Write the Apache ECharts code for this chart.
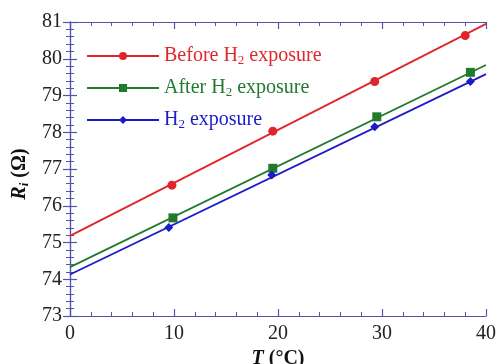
<!DOCTYPE html>
<html>
<head>
<meta charset="utf-8">
<script src="https://cdn.jsdelivr.net/npm/echarts@6/dist/echarts.min.js"></script>
<style>
  html, body { margin: 0; padding: 0; background: #fff; }
  #chart { width: 498px; height: 364px; }
</style>
</head>
<body>
<div id="chart"></div>
<script>
// measured points
const beforeT = [9.8, 19.5, 29.3, 38.0];
const beforeR = [76.56, 78.03, 79.38, 80.63];
const afterT = [9.9, 19.5, 29.5, 38.5];
const afterR = [75.67, 77.02, 78.42, 79.63];
const exposT = [9.5, 19.4, 29.3, 38.5];
const exposR = [75.41, 76.84, 78.15, 79.38];

// fitted lines (ends at T = 0 and T = 40)
const fitT = [0, 40];
const beforeFit = [75.18, 80.95];
const afterFit = [74.33, 79.83];
const exposFit = [74.13, 79.58];

const names = ['Before H2 exposure', 'After H2 exposure', 'H2 exposure'];
const colors = ['#e0262b', '#217a2e', '#1b1bc8'];
const symbols = ['circle', 'rect', 'diamond'];

const font = 'Liberation Serif';
const axisColor = '#5252b0';

const pairs = (xs, ys) => xs.map((x, i) => [x, ys[i]]);

const fits = [beforeFit, afterFit, exposFit];
const pts = [[beforeT, beforeR], [afterT, afterR], [exposT, exposR]];
const sizes = [9, 9, 9];

const series = [];
names.forEach((name, i) => {
  series.push({
    name,
    type: 'line',
    data: pairs(fitT, fits[i]),
    symbol: symbols[i],
    showSymbol: false,
    color: colors[i],
    lineStyle: { width: 1.8, color: colors[i] },
    z: 2
  });
  series.push({
    name: name + ' pts',
    type: 'scatter',
    data: pairs(pts[i][0], pts[i][1]),
    symbol: symbols[i],
    symbolSize: sizes[i],
    itemStyle: { color: colors[i], opacity: 1 },
    z: 3
  });
});

const legendRich = {
  a: { fontFamily: font, fontSize: 20, lineHeight: 22, verticalAlign: 'middle' },
  s: { fontFamily: font, fontSize: 13, lineHeight: 12, verticalAlign: 'bottom' }
};

const tickAxis = (extra) => Object.assign({
  type: 'value',
  axisLine: { show: true, lineStyle: { color: axisColor, width: 1.2 } },
  axisTick: { show: true, inside: true, length: 7, lineStyle: { color: axisColor, width: 1.2 } },
  minorTick: { show: true, splitNumber: 5, length: 4, lineStyle: { color: axisColor, width: 1 } },
  splitLine: { show: false },
  minorSplitLine: { show: false }
}, extra);

const chart = echarts.init(document.getElementById('chart'));
chart.setOption({
  animation: false,
  grid: { left: 70, right: 12, top: 22, bottom: 48, outerBoundsMode: 'none', containLabel: false },
  legend: {
    orient: 'vertical',
    left: 81,
    top: 41,
    itemWidth: 72,
    itemHeight: 10,
    itemGap: 11,
    data: names.map((n, i) => ({ name: n, textStyle: { color: colors[i] } })),
    formatter: (n) => n.replace('H2', 'H{s|2}').split(/(\{s\|2\})/).map(p => p.startsWith('{s|') ? p : (p ? '{a|' + p + '}' : '')).join(''),
    textStyle: { fontFamily: font, fontSize: 20, rich: legendRich }
  },
  xAxis: [
    tickAxis({
      min: 0, max: 40, interval: 10,
      position: 'bottom',
      axisLabel: { color: '#222', fontFamily: font, fontSize: 20, margin: 8 },
      name: '{t|T}{b| (°C)}',
      nameLocation: 'middle',
      nameGap: 32,
      nameTextStyle: {
        rich: {
          t: { fontFamily: font, fontSize: 20, fontWeight: 'bold', fontStyle: 'italic', color: '#111' },
          b: { fontFamily: font, fontSize: 20, fontWeight: 'bold', color: '#111' }
        }
      }
    }),
    tickAxis({
      min: 0, max: 40, interval: 10,
      position: 'top',
      axisLabel: { show: false }
    })
  ],
  yAxis: [
    tickAxis({
      min: 73, max: 81, interval: 1,
      position: 'left',
      axisLabel: { color: '#222', fontFamily: font, fontSize: 20, margin: 8 },
      name: '{r|R}{i|i}{b| (Ω)}',
      nameLocation: 'middle',
      nameRotate: 90,
      nameGap: 36,
      nameTextStyle: {
        padding: [0, 10, 0, 0],
        rich: {
          r: { fontFamily: font, fontSize: 20, fontWeight: 'bold', fontStyle: 'italic', color: '#111', lineHeight: 22, verticalAlign: 'middle' },
          i: { fontFamily: font, fontSize: 13, fontWeight: 'bold', fontStyle: 'italic', color: '#111', lineHeight: 12, verticalAlign: 'bottom' },
          b: { fontFamily: font, fontSize: 20, fontWeight: 'bold', color: '#111', lineHeight: 22, verticalAlign: 'middle' }
        }
      }
    }),
    tickAxis({
      min: 73, max: 81, interval: 1,
      position: 'right',
      axisLabel: { show: false }
    })
  ],
  series
});
</script>
</body>
</html>
